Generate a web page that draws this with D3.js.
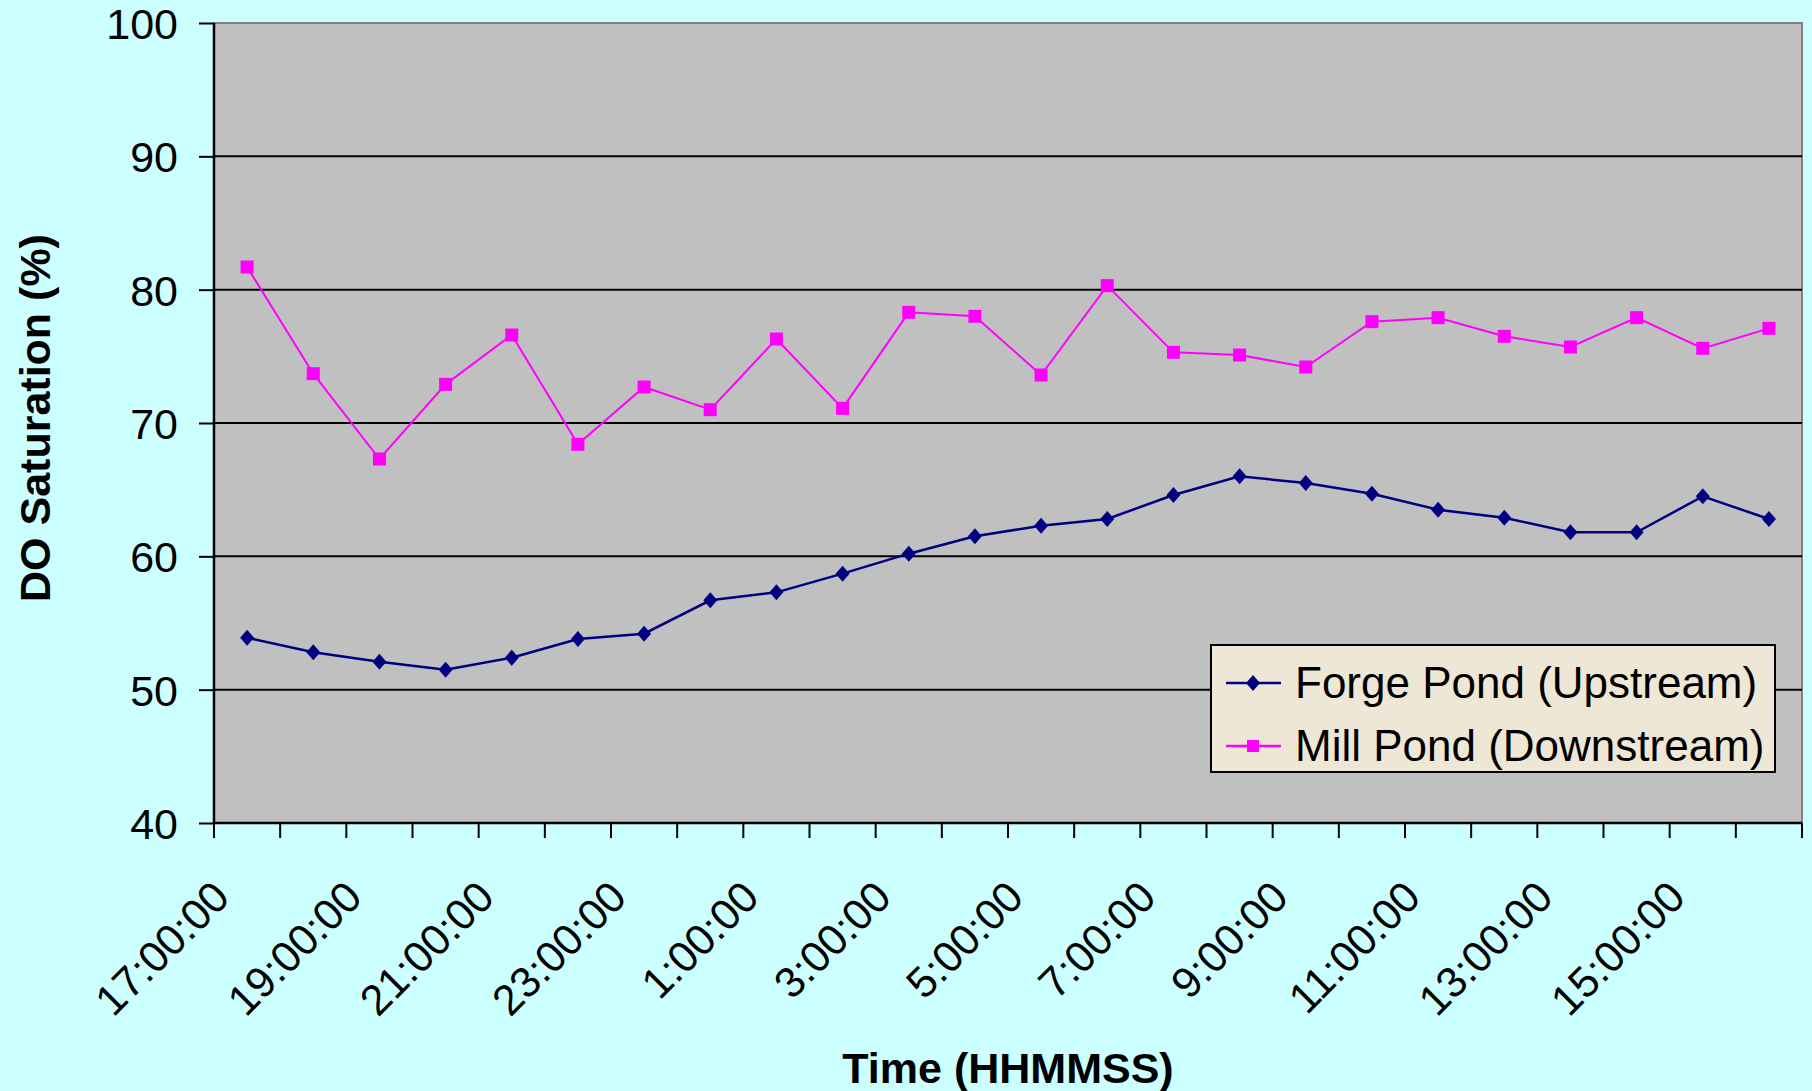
<!DOCTYPE html>
<meta charset="utf-8">
<style>
body { margin: 0; background: #ccffff; }
text { font-family: Arial, "Liberation Sans", sans-serif; fill: #000; }
.axis .domain { display: none; }
</style>
<svg width="1812" height="1091"></svg>
<script src="https://d3js.org/d3.v7.min.js"></script>
<script>

var times = ["17:00:00", "18:00:00", "19:00:00", "20:00:00", "21:00:00", "22:00:00",
             "23:00:00", "0:00:00", "1:00:00", "2:00:00", "3:00:00", "4:00:00",
             "5:00:00", "6:00:00", "7:00:00", "8:00:00", "9:00:00", "10:00:00",
             "11:00:00", "12:00:00", "13:00:00", "14:00:00", "15:00:00", "16:00:00"];

var forgePond = [53.9, 52.8, 52.1, 51.5, 52.4, 53.8, 54.2, 56.7, 57.3, 58.7, 60.2, 61.5,
                 62.3, 62.8, 64.6, 66.0, 65.5, 64.7, 63.5, 62.9, 61.8, 61.8, 64.5, 62.8];

var millPond = [81.7, 73.7, 67.3, 72.9, 76.6, 68.4, 72.7, 71.0, 76.3, 71.1, 78.3, 78.0,
                73.6, 80.3, 75.3, 75.1, 74.2, 77.6, 77.9, 76.5, 75.7, 77.9, 75.6, 77.1];

var yTicks = [40, 50, 60, 70, 80, 90, 100];

var seriesNames = ["Forge Pond (Upstream)", "Mill Pond (Downstream)"];

var svg = d3.select("svg"),
    margin = {top: 23, right: 10, bottom: 268, left: 214},
    width = +svg.attr("width") - margin.left - margin.right,
    height = +svg.attr("height") - margin.top - margin.bottom;

svg.append("rect")
    .attr("width", +svg.attr("width"))
    .attr("height", +svg.attr("height"))
    .attr("fill", "#ccffff");

var g = svg.append("g").attr("transform", "translate(" + margin.left + "," + margin.top + ")");

var x = d3.scaleBand()
    .domain(times)
    .range([0, width])
    .paddingInner(0)
    .paddingOuter(0);

var y = d3.scaleLinear()
    .domain([40, 100])
    .range([height, 0]);

function cx(d, i) { return x(times[i]) + x.bandwidth() / 2; }

// plot area
g.append("rect")
    .attr("width", width)
    .attr("height", height)
    .attr("fill", "#c0c0c0")
    .attr("stroke", "#808080")
    .attr("stroke-width", 2);

// gridlines
g.append("g")
  .selectAll("line")
  .data(yTicks.slice(1, -1))
  .enter().append("line")
    .attr("x1", 0)
    .attr("x2", width)
    .attr("y1", function(d) { return y(d); })
    .attr("y2", function(d) { return y(d); })
    .attr("stroke", "#000")
    .attr("stroke-width", 2);

// y axis
var yAxis = g.append("g")
    .attr("class", "axis")
    .call(d3.axisLeft(y).tickValues(yTicks).tickSize(15).tickPadding(21));
yAxis.selectAll("line").attr("stroke", "#000").attr("stroke-width", 2);
yAxis.selectAll("text").style("font-size", "43px").attr("fill", "#000").attr("dy", "0.36em");

g.append("line")
    .attr("x1", 0).attr("x2", 0)
    .attr("y1", 0).attr("y2", height)
    .attr("stroke", "#000").attr("stroke-width", 2.5);

g.append("line")
    .attr("x1", 0).attr("x2", width)
    .attr("y1", height).attr("y2", height)
    .attr("stroke", "#000").attr("stroke-width", 2.5);

// x ticks on band edges
var edges = times.map(function(d) { return x(d); }).concat([x(times[times.length - 1]) + x.bandwidth()]);
g.append("g")
  .selectAll("line")
  .data(edges)
  .enter().append("line")
    .attr("x1", function(d) { return d; })
    .attr("x2", function(d) { return d; })
    .attr("y1", height)
    .attr("y2", height + 15)
    .attr("stroke", "#000")
    .attr("stroke-width", 2);

// x labels, every other hour
g.append("g")
  .selectAll("text")
  .data(times.filter(function(d, i) { return i % 2 === 0; }))
  .enter().append("text")
    .attr("transform", function(d) {
      return "translate(" + (x(d) + x.bandwidth() / 2 - 26) + "," + (height + 66) + ") rotate(-45)";
    })
    .attr("text-anchor", "end")
    .attr("dy", "0.35em")
    .style("font-size", "43px")
    .text(function(d) { return d; });

// lines
var line = d3.line()
    .x(function(d, i) { return cx(d, i); })
    .y(function(d) { return y(d); });

g.append("path")
    .datum(millPond)
    .attr("fill", "none")
    .attr("stroke", "#ff00ff")
    .attr("stroke-width", 2)
    .attr("d", line);

g.append("path")
    .datum(forgePond)
    .attr("fill", "none")
    .attr("stroke", "#000080")
    .attr("stroke-width", 2.5)
    .attr("d", line);

var diamond = "M0,-8L7,0L0,8L-7,0Z";

g.append("g")
  .selectAll("path")
  .data(forgePond)
  .enter().append("path")
    .attr("d", diamond)
    .attr("transform", function(d, i) { return "translate(" + cx(d, i) + "," + y(d) + ")"; })
    .attr("fill", "#000080");

g.append("g")
  .selectAll("rect")
  .data(millPond)
  .enter().append("rect")
    .attr("x", function(d, i) { return cx(d, i) - 6.5; })
    .attr("y", function(d) { return y(d) - 6.5; })
    .attr("width", 13)
    .attr("height", 13)
    .attr("fill", "#ff00ff");

// axis titles
svg.append("text")
    .attr("transform", "translate(50," + (margin.top + height / 2 - 5) + ") rotate(-90)")
    .attr("text-anchor", "middle")
    .style("font-size", "43px")
    .style("font-weight", "bold")
    .text("DO Saturation (%)");

svg.append("text")
    .attr("x", margin.left + width / 2)
    .attr("y", 1083)
    .attr("text-anchor", "middle")
    .style("font-size", "43px")
    .style("font-weight", "bold")
    .text("Time (HHMMSS)");

// legend
var legend = svg.append("g").attr("transform", "translate(1211,645)");

legend.append("rect")
    .attr("width", 564)
    .attr("height", 127)
    .attr("fill", "#eee7d5")
    .attr("stroke", "#000")
    .attr("stroke-width", 2);

var colors = ["#000080", "#ff00ff"];

var item = legend.selectAll(".item")
    .data(seriesNames)
    .enter().append("g")
      .attr("class", "item")
      .attr("transform", function(d, i) { return "translate(0," + (38 + i * 63) + ")"; });

item.append("line")
    .attr("x1", 15).attr("x2", 70)
    .attr("stroke", function(d, i) { return colors[i]; })
    .attr("stroke-width", 2.5);

item.filter(function(d, i) { return i === 0; }).append("path")
    .attr("d", diamond)
    .attr("transform", "translate(42,0)")
    .attr("fill", colors[0]);

item.filter(function(d, i) { return i === 1; }).append("rect")
    .attr("x", 36).attr("y", -6)
    .attr("width", 12).attr("height", 12)
    .attr("fill", colors[1]);

item.append("text")
    .attr("x", 84)
    .attr("dy", "0.34em")
    .style("font-size", "44px")
    .text(function(d) { return d; });

</script>
